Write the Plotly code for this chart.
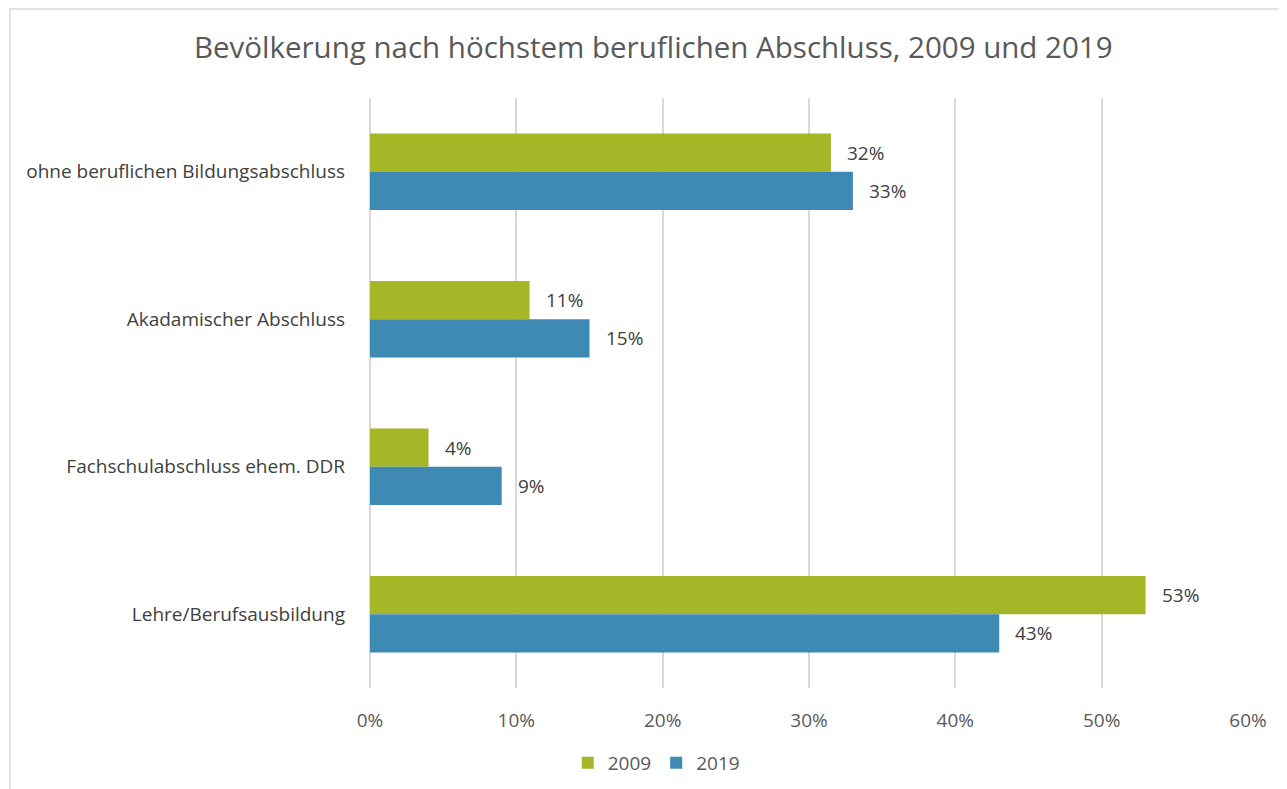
import plotly.graph_objects as go

categories = ["ohne beruflichen Bildungsabschluss", "Akadamischer Abschluss",
              "Fachschulabschluss ehem. DDR", "Lehre/Berufsausbildung"]
values_2009 = [31.5, 10.9, 4.0, 53.0]
values_2019 = [33.0, 15.0, 9.0, 43.0]
labels_2009 = ["32%", "11%", "4%", "53%"]
labels_2019 = ["33%", "15%", "9%", "43%"]
tick_vals = [0, 10, 20, 30, 40, 50, 60]
tick_text = ["0%", "10%", "20%", "30%", "40%", "50%", "60%"]

green = "#A5B627"
blue = "#3F89B5"
font_family = "Open Sans, Noto Sans, sans-serif"

fig = go.Figure()
fig.add_trace(go.Bar(y=categories, x=values_2009, name="2009", orientation="h",
                     marker=dict(color=green, line=dict(width=0))))
fig.add_trace(go.Bar(y=categories, x=values_2019, name="2019", orientation="h",
                     marker=dict(color=blue, line=dict(width=0))))

annotations = []
for cat, v, t in zip(categories, values_2009, labels_2009):
    annotations.append(dict(x=v, y=cat, text=t, xanchor="left", yanchor="middle",
                            showarrow=False, xshift=14, yshift=19,
                            font=dict(size=19, color="#404040", family=font_family)))
for cat, v, t in zip(categories, values_2019, labels_2019):
    annotations.append(dict(x=v, y=cat, text=t, xanchor="left", yanchor="middle",
                            showarrow=False, xshift=14, yshift=-19,
                            font=dict(size=19, color="#404040", family=font_family)))

fig.update_layout(
    width=1279, height=781,
    margin=dict(l=362, r=39, t=90, b=101, autoexpand=False),
    paper_bgcolor="white", plot_bgcolor="white",
    barmode="group", bargap=0.483, bargroupgap=0,
    font=dict(family=font_family, color="#595959"),
    title=dict(text="Bevölkerung nach höchstem beruflichen Abschluss, 2009 und 2019",
               x=0.5045, xanchor="center", y=0.949, yanchor="middle",
               font=dict(size=29.5, color="#595959", family=font_family)),
    xaxis=dict(range=[0, 60], tickvals=tick_vals, ticktext=tick_text,
               showgrid=True, gridcolor="#d9d9d9", gridwidth=2,
               zeroline=True, zerolinecolor="#d9d9d9", zerolinewidth=2,
               showline=False, ticks="", ticklabelstandoff=19,
               tickfont=dict(size=19, color="#595959")),
    yaxis=dict(autorange="reversed", showgrid=False, zeroline=False, showline=False,
               ticks="", ticklabelstandoff=24,
               tickfont=dict(size=19, color="#404040")),
    legend=dict(orientation="h", x=0.326, xanchor="center",
                yref="container", y=0.0333, yanchor="middle",
                traceorder="normal", font=dict(size=19, color="#595959"),
                itemwidth=30),
    annotations=annotations,
    shapes=[dict(type="rect", xref="paper", yref="paper",
                 x0=-0.41, x1=1.2, y0=-0.3, y1=1.151,
                 line=dict(color="#d9d9d9", width=1.5), fillcolor="rgba(0,0,0,0)",
                 layer="below")],
)

fig.write_html("out.html")
